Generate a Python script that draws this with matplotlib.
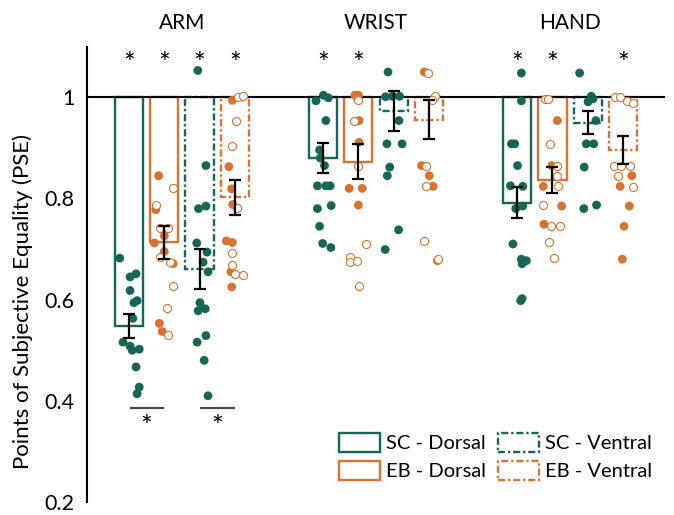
import matplotlib
matplotlib.use("Agg")
import matplotlib.pyplot as plt
from matplotlib.patches import Patch

plt.rcParams['font.family'] = ['Lato', 'DejaVu Sans']

# ---- data ----
regions = ['ARM', 'WRIST', 'HAND']
conditions = ['SC - Dorsal', 'EB - Dorsal', 'SC - Ventral', 'EB - Ventral']

arm_means = [0.548, 0.713, 0.661, 0.802]
arm_sem = [0.023, 0.033, 0.040, 0.035]
wrist_means = [0.880, 0.873, 0.973, 0.956]
wrist_sem = [0.030, 0.035, 0.040, 0.038]
hand_means = [0.792, 0.837, 0.950, 0.896]
hand_sem = [0.031, 0.026, 0.023, 0.027]

# individual participants (value, horizontal jitter, open marker flag)
arm_sc_d = [0.682, 0.651, 0.645, 0.618, 0.598, 0.594, 0.563, 0.516, 0.508, 0.502, 0.500, 0.467, 0.427, 0.414]
arm_sc_d_jit = [-0.26, 0.20, 0.03, 0.03, 0.23, 0.14, 0.11, -0.17, 0.03, 0.29, 0.09, 0.20, 0.29, 0.23]

arm_eb_d = [0.845, 0.821, 0.788, 0.778, 0.741, 0.741, 0.726, 0.712, 0.695, 0.684, 0.675, 0.671, 0.626, 0.584, 0.553, 0.537, 0.531]
arm_eb_d_jit = [-0.16, 0.25, -0.23, -0.24, -0.11, 0.10, 0.00, -0.28, 0.00, -0.11, 0.17, 0.25, 0.25, 0.08, -0.14, -0.06, 0.11]
arm_eb_d_open = [0, 1, 1, 0, 1, 1, 0, 0, 0, 1, 1, 0, 1, 1, 0, 0, 1]

arm_sc_v = [1.053, 0.865, 0.785, 0.780, 0.712, 0.694, 0.674, 0.655, 0.594, 0.582, 0.578, 0.529, 0.516, 0.480, 0.410]
arm_sc_v_jit = [-0.05, 0.18, 0.18, -0.03, -0.08, 0.21, 0.10, 0.24, 0.01, 0.16, -0.04, 0.18, -0.07, 0.13, 0.24]

arm_eb_v = [0.994, 1.000, 1.002, 0.954, 0.903, 0.863, 0.819, 0.782, 0.788, 0.716, 0.713, 0.692, 0.669, 0.655, 0.651, 0.649, 0.625]
arm_eb_v_jit = [-0.07, 0.08, 0.23, 0.03, -0.08, -0.17, -0.09, 0.05, -0.06, -0.24, -0.07, -0.07, -0.07, -0.11, 0.00, 0.22, -0.09]
arm_eb_v_open = [0, 1, 1, 1, 1, 0, 0, 1, 0, 0, 0, 1, 1, 0, 1, 1, 0]

wrist_sc_d = [1.004, 0.999, 0.993, 0.954, 0.896, 0.880, 0.865, 0.825, 0.825, 0.825, 0.786, 0.780, 0.745, 0.711, 0.703]
wrist_sc_d_jit = [0.01, 0.15, -0.20, 0.08, -0.10, -0.08, 0.04, -0.16, 0.08, 0.20, 0.23, -0.16, -0.10, -0.01, 0.22]

wrist_eb_d = [1.004, 1.004, 0.995, 0.954, 0.954, 0.911, 0.865, 0.820, 0.820, 0.787, 0.710, 0.684, 0.675, 0.677, 0.626]
wrist_eb_d_jit = [-0.10, 0.00, 0.00, -0.13, 0.02, 0.02, 0.00, -0.26, 0.11, 0.00, 0.21, -0.24, -0.24, -0.03, 0.02]
wrist_eb_d_open = [0, 0, 1, 1, 0, 0, 1, 0, 0, 0, 1, 1, 1, 1, 1]

wrist_sc_v = [1.050, 1.001, 1.002, 1.002, 0.954, 0.908, 0.908, 0.862, 0.845, 0.738, 0.699]
wrist_sc_v_jit = [-0.16, -0.23, -0.04, 0.17, 0.15, -0.19, 0.24, -0.11, -0.18, 0.14, -0.24]

wrist_eb_v = [1.050, 1.049, 1.002, 0.994, 0.865, 0.865, 0.845, 0.824, 0.824, 0.716, 0.677, 0.680]
wrist_eb_v_jit = [-0.13, -0.02, 0.17, 0.08, -0.21, -0.08, 0.01, -0.09, 0.12, -0.14, 0.24, 0.25]
wrist_eb_v_open = [0, 1, 1, 1, 0, 1, 0, 1, 0, 1, 0, 1]

hand_sc_d = [1.048, 0.993, 0.908, 0.908, 0.865, 0.825, 0.824, 0.780, 0.785, 0.710, 0.680, 0.677, 0.671, 0.602, 0.598]
hand_sc_d_jit = [0.12, 0.12, -0.16, -0.07, 0.01, -0.19, 0.16, -0.04, 0.16, -0.12, 0.12, 0.26, 0.14, 0.14, 0.10]

hand_eb_d = [0.997, 0.997, 0.954, 0.908, 0.865, 0.865, 0.845, 0.825, 0.824, 0.787, 0.785, 0.749, 0.745, 0.745, 0.713, 0.682]
hand_eb_d_jit = [-0.21, -0.12, 0.14, -0.07, -0.02, 0.12, 0.12, 0.16, -0.26, -0.28, 0.26, -0.24, -0.05, 0.21, -0.09, 0.04]
hand_eb_d_open = [1, 1, 0, 1, 0, 1, 1, 1, 0, 1, 0, 0, 1, 1, 1, 1]

hand_sc_v = [1.048, 1.002, 0.997, 0.991, 0.954, 0.908, 0.908, 0.862, 0.780, 0.787]
hand_sc_v_jit = [-0.23, 0.10, 0.15, 0.01, 0.23, -0.04, 0.17, -0.10, -0.11, 0.25]

hand_eb_v = [1.001, 1.000, 0.993, 0.989, 0.865, 0.865, 0.865, 0.845, 0.845, 0.824, 0.823, 0.785, 0.745, 0.680]
hand_eb_v_jit = [-0.23, -0.08, 0.10, 0.27, -0.25, -0.07, 0.20, -0.13, 0.25, -0.08, 0.27, 0.18, 0.03, -0.02]
hand_eb_v_open = [1, 1, 1, 1, 1, 1, 1, 1, 0, 0, 1, 0, 0, 0]

# significance markers: bars above the reference line, and paired comparisons
top_stars = {'ARM': [0, 1, 2, 3], 'WRIST': [0, 1], 'HAND': [0, 1, 3]}
pair_stars = {'ARM': [(0, 1), (2, 3)]}

# ---- layout ----
teal = '#166657'
orange = '#d8722f'
colors = [teal, orange, teal, orange]
dashdot = (0, (3, 1.2, 1, 1.2))
styles = ['-', '-', dashdot, dashdot]
group_x = [0.0, 5.5, 11.0]
offsets = [-1.5, -0.5, 0.5, 1.5]

means = {'ARM': arm_means, 'WRIST': wrist_means, 'HAND': hand_means}
sems = {'ARM': arm_sem, 'WRIST': wrist_sem, 'HAND': hand_sem}
points = {
    'ARM': [(arm_sc_d, arm_sc_d_jit, None), (arm_eb_d, arm_eb_d_jit, arm_eb_d_open),
            (arm_sc_v, arm_sc_v_jit, None), (arm_eb_v, arm_eb_v_jit, arm_eb_v_open)],
    'WRIST': [(wrist_sc_d, wrist_sc_d_jit, None), (wrist_eb_d, wrist_eb_d_jit, wrist_eb_d_open),
              (wrist_sc_v, wrist_sc_v_jit, None), (wrist_eb_v, wrist_eb_v_jit, wrist_eb_v_open)],
    'HAND': [(hand_sc_d, hand_sc_d_jit, None), (hand_eb_d, hand_eb_d_jit, hand_eb_d_open),
             (hand_sc_v, hand_sc_v_jit, None), (hand_eb_v, hand_eb_v_jit, hand_eb_v_open)],
}

fig = plt.figure(figsize=(6.74, 5.15), dpi=100)
ax = fig.add_axes([87 / 674, 13 / 515, 578 / 674, 455.3 / 515])

ax.axhline(1, color='black', lw=1.5, zorder=2)

for g, region in enumerate(regions):
    for i in range(4):
        x = group_x[g] + offsets[i]
        m = means[region][i]
        ax.bar(x, m - 1, bottom=1, width=0.8, facecolor='none', edgecolor=colors[i],
               linewidth=1.7, linestyle=styles[i], zorder=1)

        vals, jit, openf = points[region][i]
        xs = [x + j for j in jit]
        if openf is None:
            ax.scatter(xs, vals, s=40, color=colors[i], edgecolors='none', zorder=3)
        else:
            fx = [a for a, o in zip(xs, openf) if not o]
            fy = [v for v, o in zip(vals, openf) if not o]
            hx = [a for a, o in zip(xs, openf) if o]
            hy = [v for v, o in zip(vals, openf) if o]
            ax.scatter(fx, fy, s=40, color=colors[i], edgecolors='none', zorder=3)
            ax.scatter(hx, hy, s=34, facecolor='white', edgecolors=colors[i], linewidths=0.8, zorder=3.5)

        ax.errorbar(x, m, yerr=sems[region][i], color='black', lw=1.6, capsize=4,
                    capthick=1.6, zorder=4)

    for i in top_stars.get(region, []):
        ax.text(group_x[g] + offsets[i], 1.063, '*', ha='center', va='center', fontsize=20)
    for a, b in pair_stars.get(region, []):
        x0 = group_x[g] + offsets[a]
        x1 = group_x[g] + offsets[b]
        ax.plot([x0 + 0.05, x1 - 0.03], [0.385, 0.385], color='#444444', lw=1.5)
        ax.text((x0 + x1) / 2, 0.347, '*', ha='center', va='center', fontsize=20)

    ax.text(group_x[g], 1.147, region, ha='center', va='center', fontsize=15, clip_on=False)

ax.set_xlim(-2.69, 13.69)
ax.set_ylim(0.2, 1.1)
ax.set_yticks([0.2, 0.4, 0.6, 0.8, 1.0])
ax.set_yticklabels(['0.2', '0.4', '0.6', '0.8', '1'])
ax.tick_params(axis='y', length=0, pad=9, labelsize=15.5)
ax.set_xticks([])
for side in ['top', 'right', 'bottom']:
    ax.spines[side].set_visible(False)
ax.spines['left'].set_linewidth(1.5)
ax.set_ylabel('Points of Subjective Equality (PSE)', fontsize=16)
ax.yaxis.set_label_coords(-0.093, 0.44)

handles = [Patch(facecolor='none', edgecolor=colors[i], linewidth=1.7, linestyle=styles[i])
           for i in range(4)]
fig.legend(handles, conditions, ncol=2, frameon=False, loc='upper left',
           bbox_to_anchor=(339 / 674, 1 - 433 / 515), fontsize=14.5,
           handlelength=2.05, handleheight=1.05, handletextpad=0.28,
           columnspacing=0.6, labelspacing=0.45, borderpad=0, borderaxespad=0)

fig.savefig('out.png', dpi=100)
